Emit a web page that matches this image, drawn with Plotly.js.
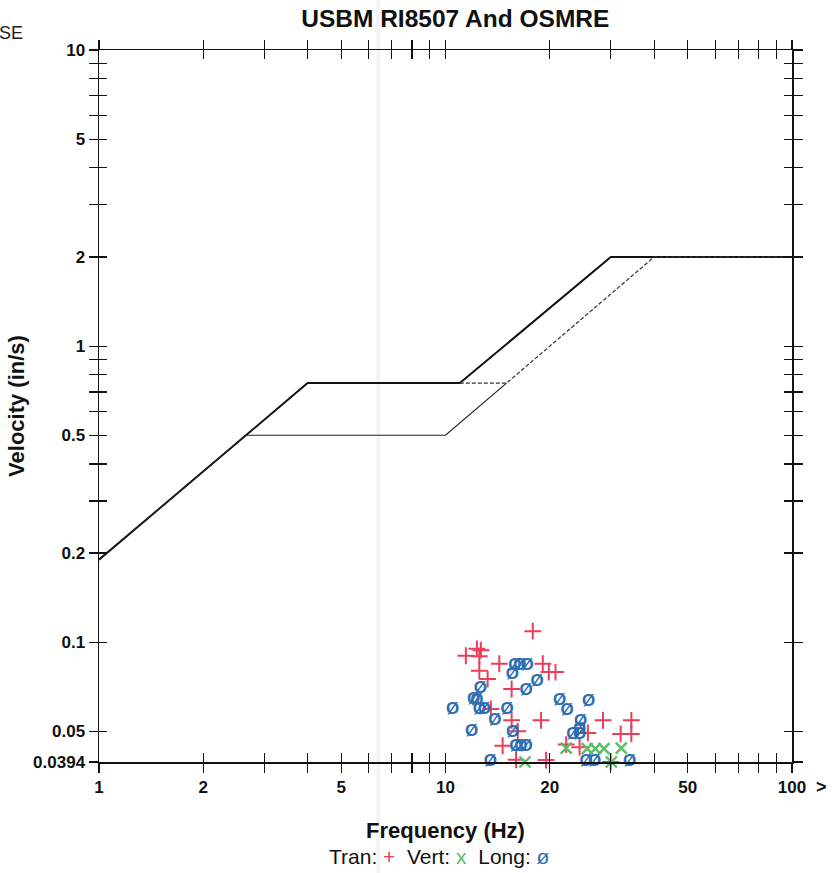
<!DOCTYPE html>
<html>
<head>
<meta charset="utf-8">
<script src="https://cdn.plot.ly/plotly-3.0.1.min.js"></script>
<style>
  html, body { margin: 0; padding: 0; background: #ffffff; }
  #chart { width: 840px; height: 873px; }
</style>
</head>
<body>
<div id="chart"></div>
<script>
// ---- Limit curves (frequency Hz, velocity in/s) ----
var osmreFreq = [1, 4, 11, 30, 100];
var osmreVel  = [0.19, 0.75, 0.75, 2.0, 2.0];

var usbmPlasterFreq = [1, 2.65, 10, 15];
var usbmPlasterVel  = [0.19, 0.5, 0.5, 0.75];

var usbmDrywallFreq = [11, 15, 40, 100];
var usbmDrywallVel  = [0.75, 0.75, 2.0, 2.0];

// ---- Event data ----
var tranFreq = [17.86, 11.45, 12.32, 12.65, 12.52, 14.30, 12.52, 13.23, 19.09, 19.87, 20.77,
                15.52, 13.52, 15.52, 18.87, 16.16, 14.62, 15.98, 19.51, 28.48, 34.38,
                25.76, 32.03, 34.38, 24.38, 22.30, 29.98];
var tranVel  = [0.109, 0.090, 0.095, 0.094, 0.0897, 0.0846, 0.0801, 0.0751, 0.0846, 0.0793, 0.0793,
                0.0695, 0.0595, 0.0545, 0.0545, 0.0500, 0.0447, 0.0401, 0.0400, 0.0545, 0.0545,
                0.0494, 0.0490, 0.0490, 0.0442, 0.0451, 0.0394];

var vertFreq = [16.96, 22.30, 25.64, 27.05, 28.67, 32.16, 30.10];
var vertVel  = [0.0394, 0.0439, 0.0437, 0.0437, 0.0437, 0.0439, 0.0394];

var longFreq = [15.85, 16.40, 17.20, 15.60, 18.38, 17.08, 12.60, 12.05, 12.32, 10.48, 12.52,
                12.94, 15.05, 13.89, 11.89, 15.63, 15.95, 16.50, 17.10, 13.47, 21.34,
                22.45, 25.88, 24.54, 23.32, 24.38, 24.40, 25.47, 26.94, 34.01];
var longVel  = [0.0833, 0.0833, 0.0833, 0.0777, 0.0735, 0.0686, 0.0695, 0.0637, 0.0632, 0.0590, 0.0590,
                0.0590, 0.0593, 0.0541, 0.0497, 0.0494, 0.0443, 0.0443, 0.0443, 0.0394, 0.0632,
                0.0587, 0.0630, 0.0540, 0.0487, 0.0487, 0.0508, 0.0394, 0.0394, 0.0394];

// ---- Tick labels ----
var xTickVals = [1,2,3,4,5,6,7,8,9,10,20,30,40,50,60,70,80,90,100];
var xTickText = ['1','2','','','5','','','','','10','20','','','50','','','','','100'];
var yTickVals = [0.0394,0.05,0.1,0.2,0.3,0.4,0.5,0.6,0.7,0.8,0.9,1,2,3,4,5,6,7,8,9,10];
var yTickText = ['0.0394','0.05','0.1','0.2','','','0.5','','','','','1','2','','','5','','','','','10'];

var RED = '#e8405c', GREEN = '#5cbd62', BLUE = '#2c6db3';
var FONT = 'Liberation Sans, Arial, sans-serif';

var traces = [
  { x: osmreFreq, y: osmreVel, mode: 'lines', line: {color: '#111', width: 2}, hoverinfo: 'skip' },
  { x: usbmPlasterFreq, y: usbmPlasterVel, mode: 'lines', line: {color: '#222', width: 1.2}, hoverinfo: 'skip' },
  { x: usbmDrywallFreq, y: usbmDrywallVel, mode: 'lines', line: {color: '#333', width: 1.2, dash: '4px,2px'},
    xaxis: 'x2', yaxis: 'y2', hoverinfo: 'skip' },
  { x: tranFreq, y: tranVel, mode: 'markers', cliponaxis: false,
    marker: {symbol: 'cross-thin-open', size: 12, color: RED, line: {color: RED, width: 2}} },
  { x: vertFreq, y: vertVel, mode: 'markers', cliponaxis: false,
    marker: {symbol: 'x-thin-open', size: 11, color: GREEN, line: {color: GREEN, width: 2.4}} },
  { x: longFreq, y: longVel, mode: 'text', text: longFreq.map(function(){return 'Ø';}),
    textposition: 'middle center', cliponaxis: false,
    textfont: {family: FONT, size: 17, color: BLUE, weight: 'bold'} }
];

var yRange = [Math.log10(0.0394), 1];

var layout = {
  width: 840, height: 873,
  margin: {l: 99, r: 48, t: 50, b: 111},
  paper_bgcolor: '#ffffff', plot_bgcolor: '#ffffff',
  showlegend: false,
  title: {text: '<b>USBM RI8507 And OSMRE</b>', x: 0.542, xanchor: 'center', y: 0.979, yanchor: 'middle',
          font: {family: FONT, size: 24.5, color: '#111'}},
  xaxis: {
    type: 'log', range: [0, 2], showgrid: false, zeroline: false,
    showline: true, linecolor: '#111', linewidth: 1.5, mirror: 'allticks',
    ticks: 'outside', ticklen: 9, tickwidth: 1.2, tickcolor: '#111',
    tickmode: 'array', tickvals: xTickVals, ticktext: xTickText,
    tickfont: {family: FONT, size: 17, color: '#111', weight: 'bold'},
    title: {text: '<b>Frequency (Hz)</b>', font: {family: FONT, size: 22, color: '#111'}, standoff: 26},
    automargin: false
  },
  xaxis2: {
    type: 'log', overlaying: 'x', matches: 'x', anchor: 'y', range: [0, 2],
    showgrid: false, zeroline: false, showline: false, mirror: 'allticks',
    ticks: 'inside', ticklen: 9, tickwidth: 1.2, tickcolor: '#111',
    tickmode: 'array', tickvals: xTickVals, showticklabels: false
  },
  yaxis: {
    type: 'log', range: yRange, showgrid: false, zeroline: false,
    showline: true, linecolor: '#111', linewidth: 1.5, mirror: 'allticks',
    ticks: 'outside', ticklen: 9, tickwidth: 1.2, tickcolor: '#111',
    tickmode: 'array', tickvals: yTickVals, ticktext: yTickText,
    tickfont: {family: FONT, size: 17, color: '#111', weight: 'bold'},
    title: {text: '<b>Velocity (in/s)</b>', font: {family: FONT, size: 22, color: '#111'}, standoff: 2},
    automargin: false
  },
  yaxis2: {
    type: 'log', overlaying: 'y', matches: 'y', anchor: 'x', range: yRange,
    showgrid: false, zeroline: false, showline: false, mirror: 'allticks',
    ticks: 'inside', ticklen: 8, tickwidth: 1.2, tickcolor: '#111',
    tickmode: 'array', tickvals: yTickVals, showticklabels: false
  },
  annotations: [
    {xref: 'paper', yref: 'paper', x: 0.492, y: -0.133, xanchor: 'center', yanchor: 'middle', showarrow: false,
     text: 'Tran: <span style="color:' + RED + '">+</span>  Vert: <span style="color:' + GREEN + '">x</span>  Long: <span style="color:' + BLUE + '">ø</span>',
     font: {family: FONT, size: 21, color: '#111'}},
    {xref: 'paper', yref: 'paper', x: -0.147, y: 1.024, xanchor: 'left', yanchor: 'middle', showarrow: false,
     text: 'SE', font: {family: FONT, size: 18, color: '#222'}},
    {xref: 'paper', yref: 'paper', x: 1.042, y: -0.035, xanchor: 'center', yanchor: 'middle', showarrow: false,
     text: '<b>&gt;</b>', font: {family: FONT, size: 18, color: '#111'}}
  ],
  shapes: [
    {type: 'line', xref: 'paper', yref: 'paper', x0: 0.403, x1: 0.403, y0: -0.2, y1: 1.1,
     line: {color: 'rgba(210,210,210,0.25)', width: 4}, layer: 'below'}
  ]
};

Plotly.newPlot('chart', traces, layout, {staticPlot: true, displayModeBar: false});
</script>
</body>
</html>
